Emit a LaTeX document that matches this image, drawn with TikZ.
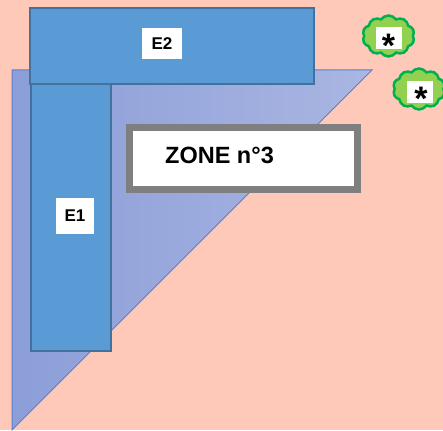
\documentclass[tikz,border=0pt]{standalone}
\usepackage{fontspec}
\setmainfont{Liberation Sans}
\usetikzlibrary{shapes.symbols}
\definecolor{bgc}{HTML}{FFC9B9}
\definecolor{triL}{HTML}{8C9ED8}
\definecolor{triR}{HTML}{AAB6E2}
\definecolor{triE}{HTML}{5B7FD0}
\definecolor{boxF}{HTML}{5B9BD5}
\definecolor{boxE}{HTML}{41719C}
\definecolor{cloudF}{HTML}{92D050}
\definecolor{cloudE}{HTML}{00B050}
\definecolor{zoneE}{HTML}{7F7F7F}
\tikzset{
  bar/.style={fill=boxF, draw=boxE, line width=2pt},
  lbl/.style={fill=white, font=\bfseries\fontsize{17}{20}\selectfont, inner sep=0pt, minimum width=40pt, minimum height=31pt},
  puff/.style={cloud, cloud puffs=10, cloud puff arc=110, aspect=1.3, fill=cloudF, draw=cloudE, line width=2.5pt, minimum width=52pt, minimum height=41pt, inner sep=0pt},
  starbox/.style={fill=white, inner sep=0pt, minimum width=26pt, minimum height=22pt},
  startxt/.style={font=\bfseries\fontsize{34}{34}\selectfont, inner sep=0pt, anchor=base}
}
\begin{document}
\begin{tikzpicture}[x=1pt,y=-1pt]
\fill[bgc] (0,0) rectangle (443,430);
\useasboundingbox (0,0) rectangle (443,430);
\coordinate (t1) at (12,70);
\coordinate (t2) at (372,70);
\coordinate (t3) at (12,430);
\shade[left color=triL, right color=triR] (t1) -- (t2) -- (t3) -- cycle;
\draw[triE, line width=1pt] (t1) -- (t2) -- (t3) -- cycle;
\draw[bar] (31,84) rectangle (111,351);
\draw[bar] (30,8) rectangle (314,84);
\node[lbl] (e2) at (162,44) {E2};
\node[lbl, minimum width=38pt, minimum height=36pt] (e1) at (75,216) {E1};
\node[draw=zoneE, line width=7pt, fill=white, minimum width=228pt, minimum height=62pt, inner sep=0pt] (zone) at (243.5,158.5) {};
\node[font=\bfseries\fontsize{23.5}{26}\selectfont, anchor=west, inner sep=0pt] (zt) at (165,155) {ZONE n°3};
\node[puff] (c1) at (388.5,36) {};
\node[starbox] (s1) at (388.5,38) {};
\node[startxt] (a1) at (388.5,58) {*};
\node[puff] (c2) at (419,89) {};
\node[starbox] (s2) at (420,92) {};
\node[startxt] (a2) at (421,111) {*};
\end{tikzpicture}
\end{document}
